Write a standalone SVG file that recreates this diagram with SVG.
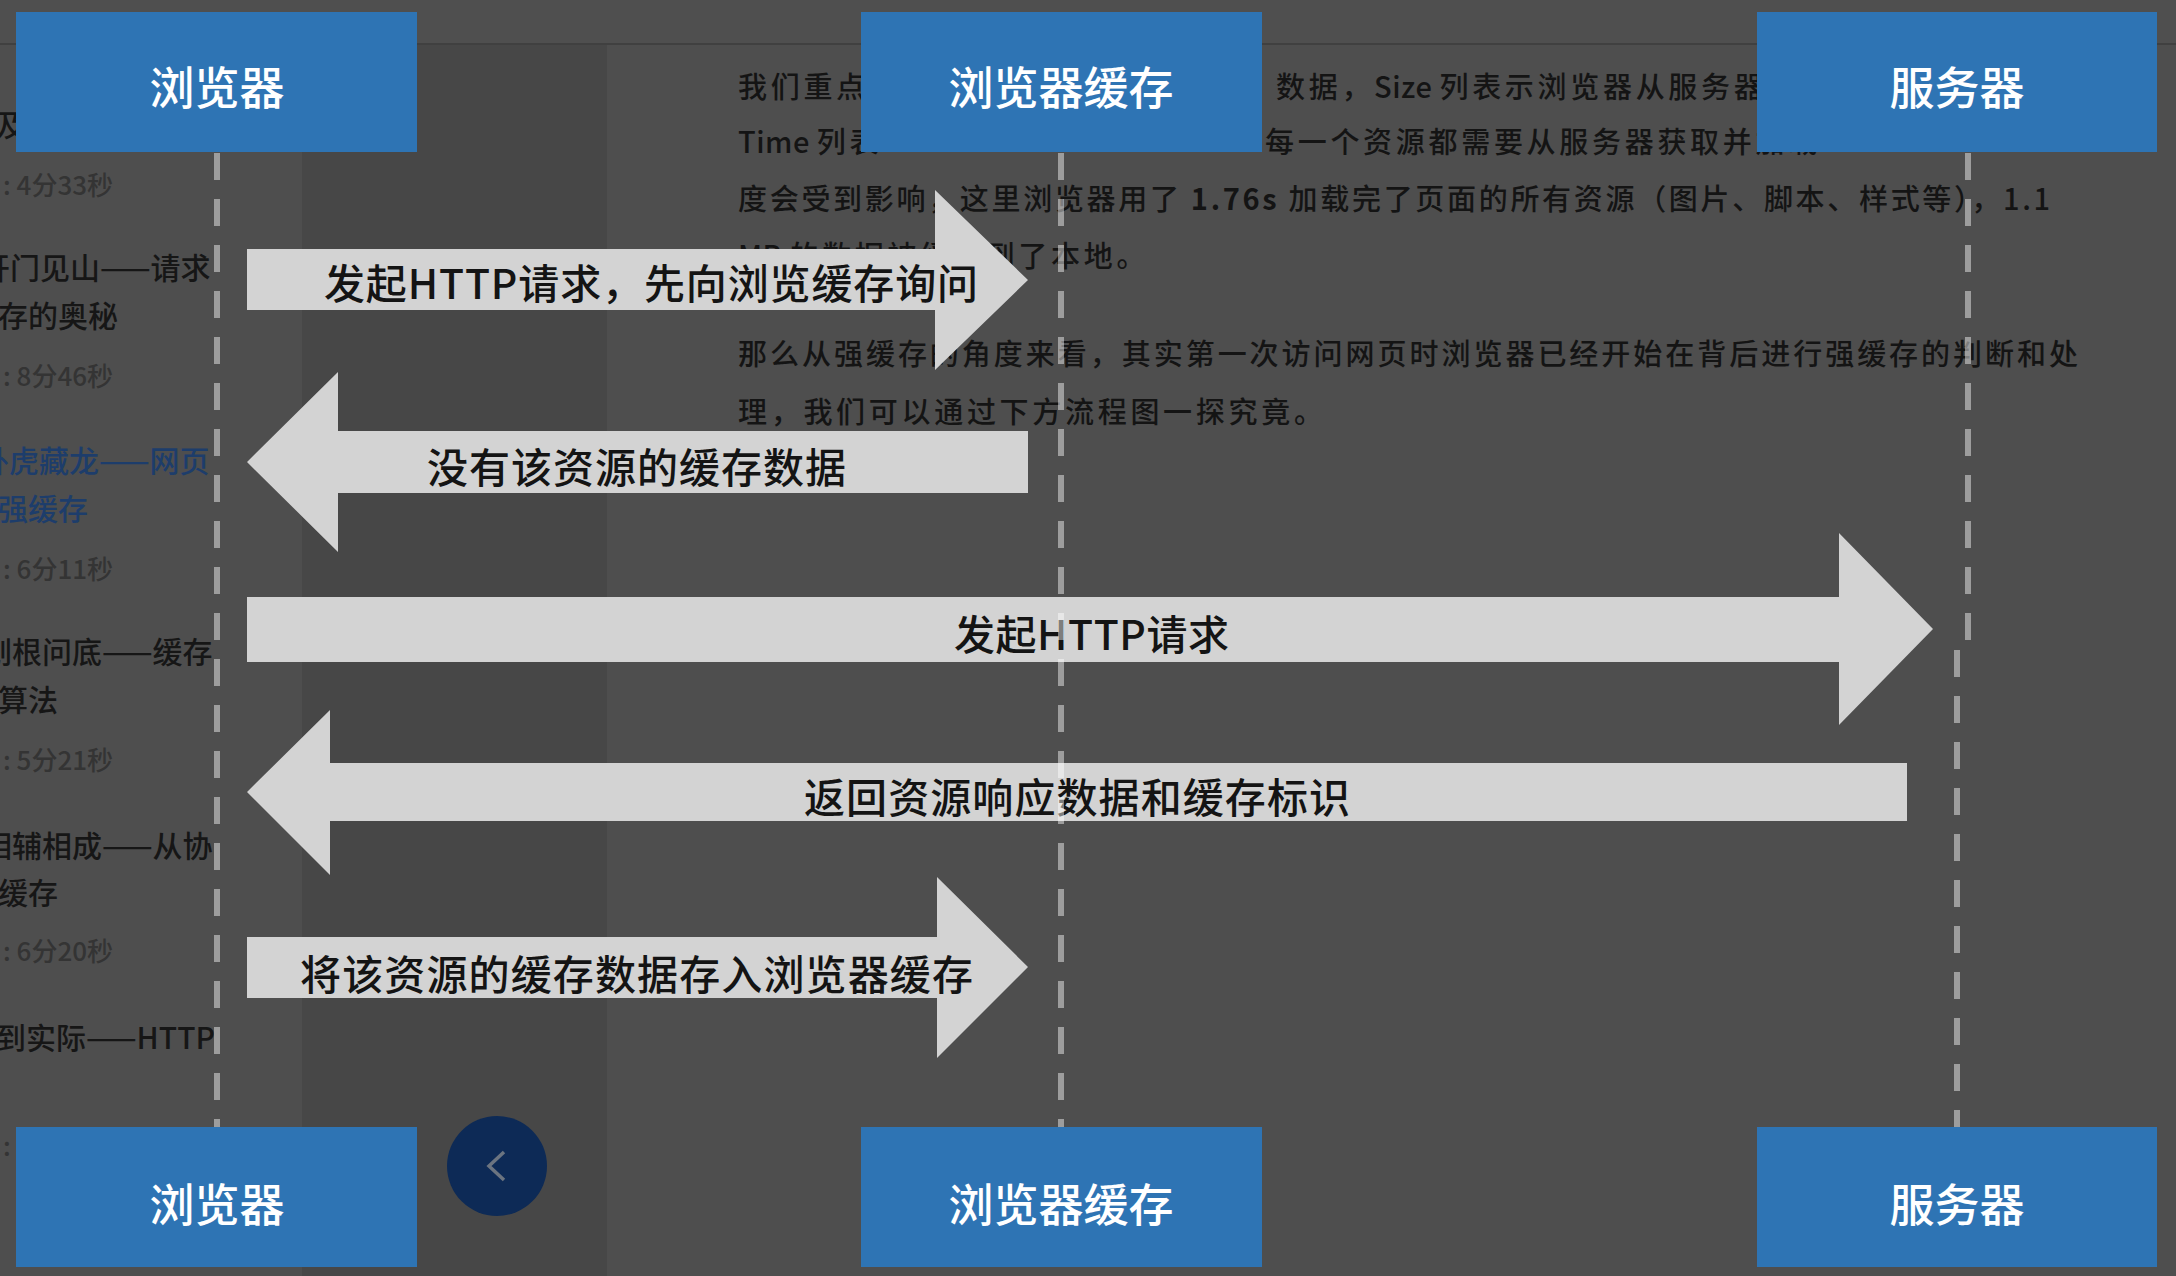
<svg xmlns="http://www.w3.org/2000/svg" width="2176" height="1276" viewBox="0 0 2176 1276">
<defs>
<style>
.bg{fill:#4e4e4e}
.page{font-family:"Noto Sans CJK SC","Noto Sans",sans-serif;fill:#141414;font-size:29px;font-weight:500;letter-spacing:3.7px}
.lat{letter-spacing:0.5px}
.side{font-family:"Noto Sans CJK SC","Noto Sans",sans-serif;fill:#161616;font-size:30px;font-weight:500}
.side.blue{fill:#1d3d6b}
.side.time{fill:#343434;font-size:26px}
.box{fill:#2e74b4}
.boxtxt{font-family:"Noto Sans CJK SC","Noto Sans",sans-serif;fill:#ffffff;font-size:45px;font-weight:500;text-anchor:middle}
.arrow{fill:#d3d3d3}
.lbl{font-family:"Noto Sans CJK SC","Noto Sans",sans-serif;fill:#141414;font-size:41px;font-weight:500}
.life{fill:none;stroke:#ffffff;stroke-opacity:0.45;stroke-width:6;stroke-dasharray:27 19}
</style>
<clipPath id="sideClip"><rect x="0" y="46" width="222" height="1230"/></clipPath>
</defs>

<g id="background">
<rect class="bg" x="0" y="0" width="2176" height="1276"/>
<rect x="0" y="0" width="2176" height="43" fill="#4f4f4f"/>
<rect x="302" y="45" width="305" height="1231" fill="#474747"/>
<line x1="0" y1="44" x2="2176" y2="44" stroke="#404040" stroke-width="2"/>
</g>

<g id="sidebar-text" clip-path="url(#sideClip)">
<text class="side" x="-4" y="136">及</text>
<text class="side time" x="3" y="195">: 4分33秒</text>
<text class="side" x="-20" y="279">开门见山——请求</text>
<text class="side" x="-2" y="327">存的奥秘</text>
<text class="side time" x="3" y="386">: 8分46秒</text>
<text class="side blue" x="-21" y="472">卧虎藏龙——网页</text>
<text class="side blue" x="-2" y="520">强缓存</text>
<text class="side time" x="3" y="579">: 6分11秒</text>
<text class="side" x="-18" y="663">刨根问底——缓存</text>
<text class="side" x="-2" y="711">算法</text>
<text class="side time" x="3" y="770">: 5分21秒</text>
<text class="side" x="-18" y="857">相辅相成——从协</text>
<text class="side" x="-2" y="904">缓存</text>
<text class="side time" x="3" y="961">: 6分20秒</text>
<text class="side" x="-4" y="1049">到实际——HTTP</text>
<text class="side time" x="3" y="1156">:</text>
</g>

<g id="article-text">
<text class="page" x="738" y="98">我们重点</text>
<text class="page" x="1276" y="98">数据，<tspan class="lat">Size </tspan>列表示浏览器从服务器</text>
<text class="page" x="738" y="153"><tspan class="lat">Time </tspan>列表</text>
<text class="page" x="1265" y="153">每一个资源都需要从服务器获取并加载</text>
<text class="page" x="738" y="210" style="letter-spacing:0" textLength="1312" lengthAdjust="spacing">度会受到影响，这里浏览器用了 <tspan font-weight="bold">1.76s</tspan> 加载完了页面的所有资源（图片、脚本、样式等），1.1</text>
<text class="page" x="738" y="267"><tspan class="lat">MB </tspan>的数据被缓存到了本地。</text>
<text class="page" x="738" y="365" style="letter-spacing:0" textLength="1340" lengthAdjust="spacing">那么从强缓存的角度来看，其实第一次访问网页时浏览器已经开始在背后进行强缓存的判断和处</text>
<text class="page" x="738" y="423">理，我们可以通过下方流程图一探究竟。</text>
</g>

<g id="connectors">
<g id="msg1">
<path class="arrow" d="M247,249 L935,249 L935,190 L1028,280 L935,370 L935,310 L247,310 Z"/>
<text class="lbl" x="324" y="299" textLength="654" lengthAdjust="spacing">发起HTTP请求，先向浏览缓存询问</text>
</g>
<g id="msg2">
<path class="arrow" d="M1028,431 L338,431 L338,372 L247,462 L338,552 L338,493 L1028,493 Z"/>
<text class="lbl" x="427" y="483" textLength="419" lengthAdjust="spacing">没有该资源的缓存数据</text>
</g>
<g id="msg3">
<path class="arrow" d="M247,597 L1839,597 L1839,533 L1933,629 L1839,725 L1839,662 L247,662 Z"/>
<text class="lbl" x="954" y="650" textLength="275" lengthAdjust="spacing">发起HTTP请求</text>
</g>
<g id="msg4">
<path class="arrow" d="M1907,763 L330,763 L330,710 L247,792 L330,875 L330,821 L1907,821 Z"/>
<text class="lbl" x="804" y="813" textLength="546" lengthAdjust="spacing">返回资源响应数据和缓存标识</text>
</g>
<g id="msg5">
<path class="arrow" d="M247,937 L937,937 L937,877 L1028,967 L937,1058 L937,998 L247,998 Z"/>
<text class="lbl" x="300" y="990" textLength="673" lengthAdjust="spacing">将该资源的缓存数据存入浏览器缓存</text>
</g>
<g id="lifelines">
<path class="life" d="M217,153 V1127"/>
<path class="life" d="M1061,153 V1127" stroke-opacity="0.5" stroke-width="5"/>
<path class="life" d="M1968,153 V645"/>
<path class="life" d="M1957,650 V1127"/>
</g>
</g>

<g id="browser-top"><rect class="box" x="16" y="12" width="401" height="140"/><text class="boxtxt" x="217" y="105">浏览器</text></g>
<g id="cache-top"><rect class="box" x="861" y="12" width="401" height="140"/><text class="boxtxt" x="1061" y="105">浏览器缓存</text></g>
<g id="server-top"><rect class="box" x="1757" y="12" width="400" height="140"/><text class="boxtxt" x="1957" y="105">服务器</text></g>
<g id="browser-bottom"><rect class="box" x="16" y="1127" width="401" height="140"/><text class="boxtxt" x="217" y="1222">浏览器</text></g>
<g id="cache-bottom"><rect class="box" x="861" y="1127" width="401" height="140"/><text class="boxtxt" x="1061" y="1222">浏览器缓存</text></g>
<g id="server-bottom"><rect class="box" x="1757" y="1127" width="400" height="140"/><text class="boxtxt" x="1957" y="1222">服务器</text></g>

<g id="back-button">
<circle cx="497" cy="1166" r="50" fill="#0d2a56"/>
<polyline points="504,1152 489,1166 504,1180" fill="none" stroke="#6b7480" stroke-width="3.5"/>
</g>
</svg>
